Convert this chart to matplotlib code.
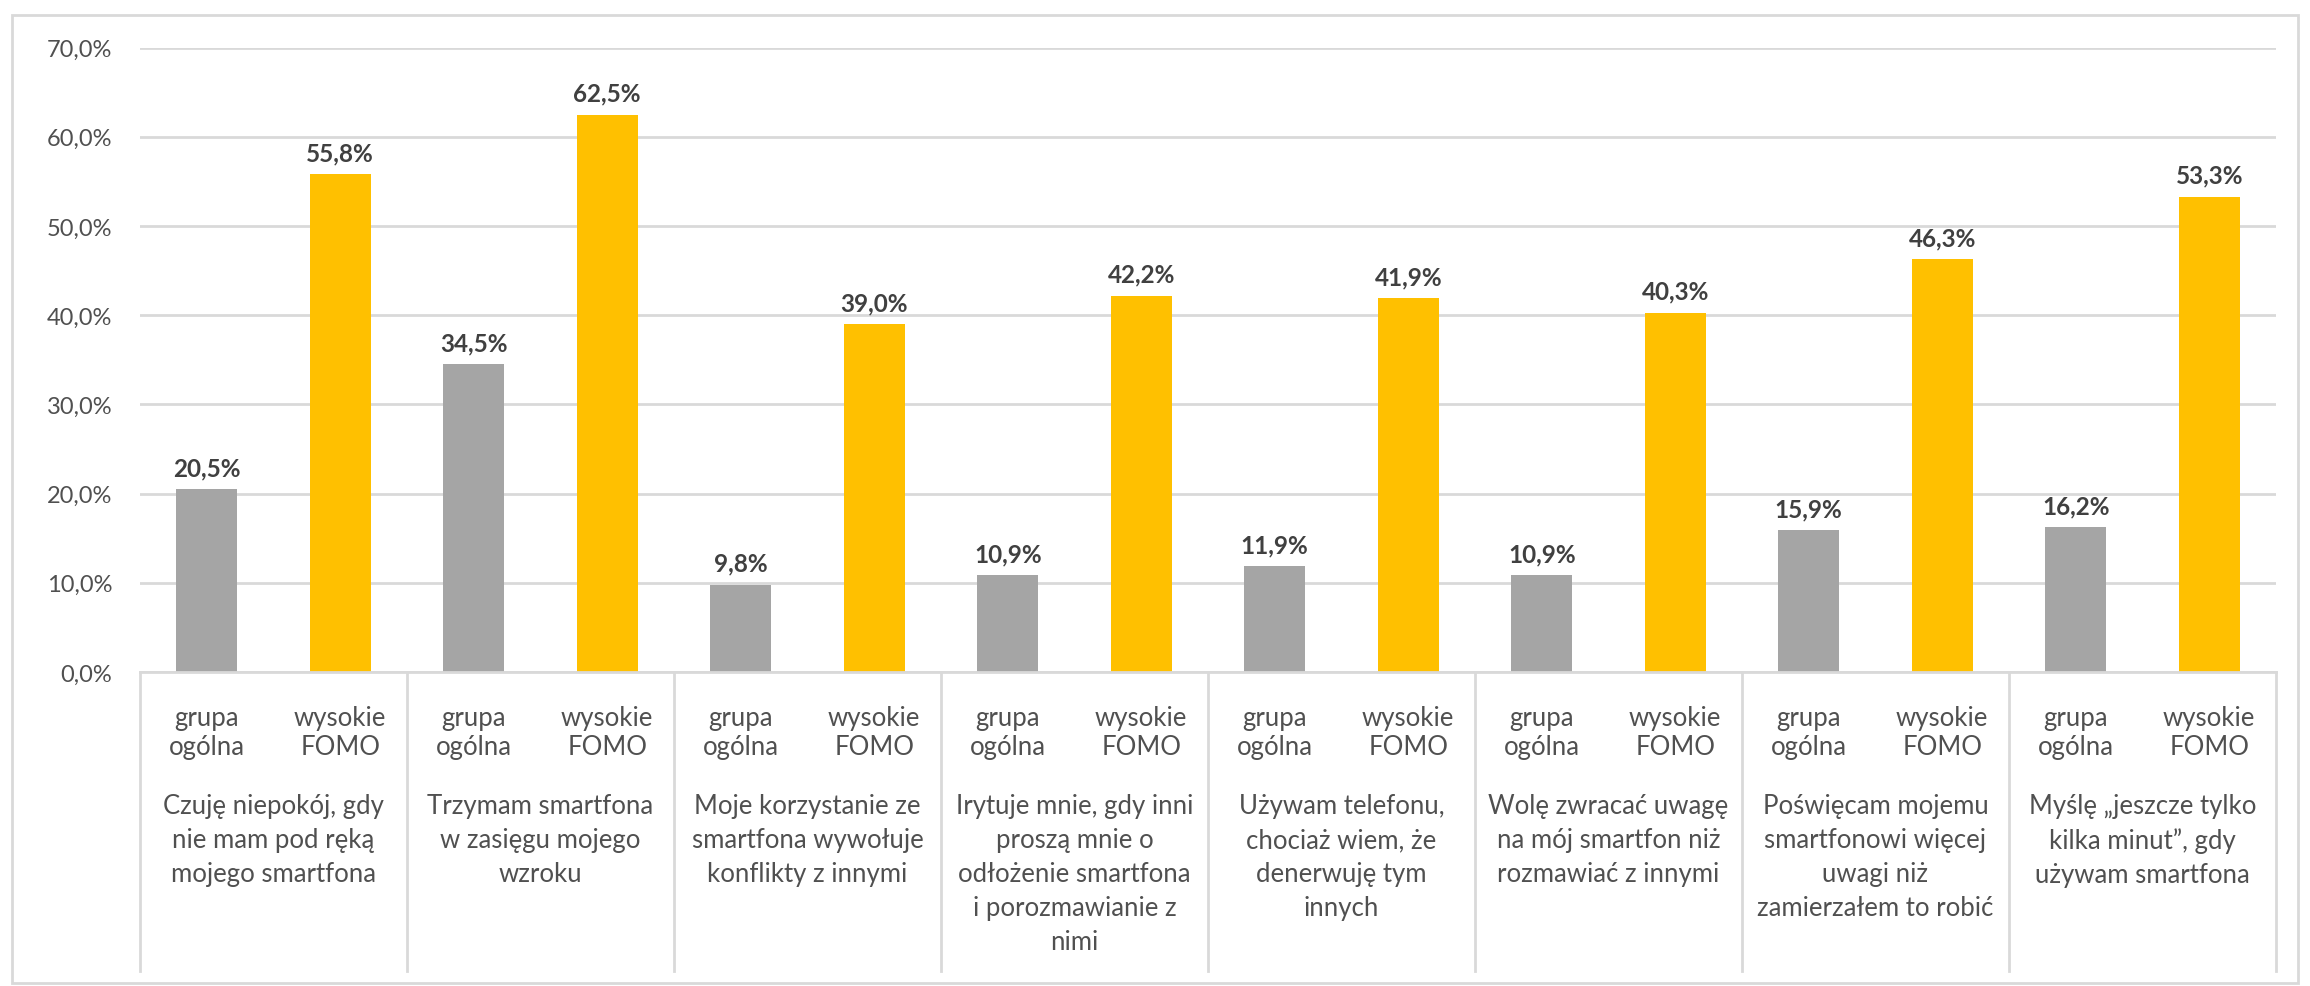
import matplotlib
matplotlib.use("Agg")
import matplotlib.pyplot as plt
from matplotlib.patches import Rectangle
import numpy as np

categories = [
    "Czuję niepokój, gdy\nnie mam pod ręką\nmojego smartfona",
    "Trzymam smartfona\nw zasięgu mojego\nwzroku",
    "Moje korzystanie ze\nsmartfona wywołuje\nkonflikty z innymi",
    "Irytuje mnie, gdy inni\nproszą mnie o\nodłożenie smartfona\ni porozmawianie z\nnimi",
    "Używam telefonu,\nchociaż wiem, że\ndenerwuję tym\ninnych",
    "Wolę zwracać uwagę\nna mój smartfon niż\nrozmawiać z innymi",
    "Poświęcam mojemu\nsmartfonowi więcej\nuwagi niż\nzamierzałem to robić",
    "Myślę „jeszcze tylko\nkilka minut”, gdy\nużywam smartfona",
]
series_names = ["grupa\nogólna", "wysokie\nFOMO"]
general = [20.5, 34.5, 9.8, 10.9, 11.9, 10.9, 15.9, 16.2]
fomo = [55.8, 62.5, 39.0, 42.2, 41.9, 40.3, 46.3, 53.3]
yticks = [0, 10, 20, 30, 40, 50, 60, 70]

plt.rcParams['font.family'] = ['Lato', 'DejaVu Sans']

W, H = 2310, 987
fig = plt.figure(figsize=(W / 100, H / 100), dpi=100)

left, right, top, bottom = 140, 2276, 48.6, 673
ax = fig.add_axes([left / W, 1 - bottom / H, (right - left) / W, (bottom - top) / H])

grey = "#A5A5A5"
yellow = "#FFC000"
txt = "#505050"
dark = "#404040"
grid = "#D9D9D9"

n = len(categories)
xg = np.arange(n) * 2 + 0.5
xf = np.arange(n) * 2 + 1.5
bw = 0.46
b1 = ax.bar(xg, general, bw, color=grey, zorder=3)
b2 = ax.bar(xf, fomo, bw, color=yellow, zorder=3)

for bars, vals in ((b1, general), (b2, fomo)):
    for r, v in zip(bars, vals):
        ax.annotate(f"{v:.1f}%".replace(".", ","), (r.get_x() + r.get_width() / 2, v),
                    xytext=(0, 7), textcoords="offset points", ha="center", va="bottom",
                    fontsize=17.5, fontweight="bold", color=dark)

ax.set_xlim(0, 2 * n)
ax.set_ylim(0, 70)
ax.set_yticks(yticks)
ax.set_yticklabels([f"{t:.1f}%".replace(".", ",") for t in yticks], fontsize=17, color=txt)
ax.tick_params(axis="y", length=0, pad=20)
ax.set_xticks([])
ax.grid(axis="y", color=grid, linewidth=2, zorder=0)
for s in ("left", "right", "top"):
    ax.spines[s].set_visible(False)
ax.spines["bottom"].set_color(grid)
ax.spines["bottom"].set_linewidth(2)
ax.spines["bottom"].set_zorder(4)

ah = bottom - top
def ay(px):
    return -(px - bottom) / ah

trans = ax.get_xaxis_transform()
for i in range(n + 1):
    ax.plot([2 * i, 2 * i], [0, ay(972)], transform=trans, clip_on=False,
            color=grid, linewidth=2)

for i in range(n):
    for x, name in ((xg[i], series_names[0]), (xf[i], series_names[1])):
        ax.text(x, ay(706), name, transform=trans, ha="center", va="top",
                fontsize=18.5, color=txt, linespacing=1.2)
    ax.text(2 * i + 1, ay(794), categories[i], transform=trans, ha="center", va="top",
            fontsize=18.5, color=txt, linespacing=1.45)

fig.patches.append(Rectangle((12 / W, 3 / H), (2298 - 12) / W, (984 - 16) / H,
                             transform=fig.transFigure, fill=False,
                             edgecolor=grid, linewidth=2))

fig.savefig("out.png", dpi=100)
